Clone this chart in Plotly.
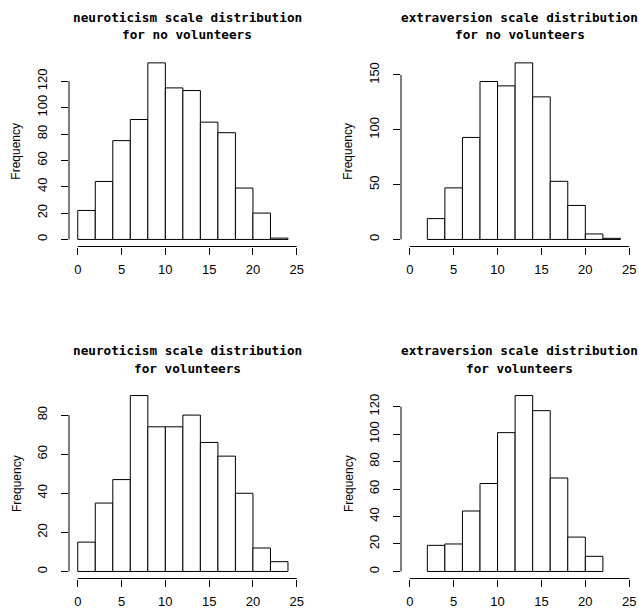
import plotly.graph_objects as go

# ---- data ----
neuro_edges = [0, 2, 4, 6, 8, 10, 12, 14, 16, 18, 20, 22, 24]
extra_edges_no = [2, 4, 6, 8, 10, 12, 14, 16, 18, 20, 22, 24]
extra_edges_yes = [2, 4, 6, 8, 10, 12, 14, 16, 18, 20, 22]

neuro_no = [22, 44, 75, 91, 134, 115, 113, 89, 81, 39, 20, 1]
extra_no = [19, 47, 93, 144, 140, 161, 130, 53, 31, 5, 1]
neuro_yes = [15, 35, 47, 90, 74, 74, 80, 66, 59, 40, 12, 5]
extra_yes = [19, 20, 44, 64, 101, 128, 117, 68, 25, 11]

x_ticks = [0, 5, 10, 15, 20, 25]
y_ticks_neuro_no = [0, 20, 40, 60, 80, 100, 120]
y_ticks_extra_no = [0, 50, 100, 150]
y_ticks_neuro_yes = [0, 20, 40, 60, 80]
y_ticks_extra_yes = [0, 20, 40, 60, 80, 100, 120]

titles = [
    ("neuroticism scale distribution", "for no volunteers"),
    ("extraversion scale distribution", "for no volunteers"),
    ("neuroticism scale distribution", "for volunteers"),
    ("extraversion scale distribution", "for volunteers"),
]

panels = [
    (neuro_edges, neuro_no, y_ticks_neuro_no),
    (extra_edges_no, extra_no, y_ticks_extra_no),
    (neuro_edges, neuro_yes, y_ticks_neuro_yes),
    (extra_edges_yes, extra_yes, y_ticks_extra_yes),
]

W, H = 639, 608
# plot regions in pixels (left, right, top, bottom)
col_px = [(69, 305.5), (401, 638)]
row_px = [(55.8, 246.5), (388.5, 578.5)]
title_px = [(17, 35), (350, 368)]
freq_x_px = [16.5, 348.5]

tick_font = dict(family="Liberation Sans Narrow, Liberation Sans, Arial", size=13, color="black")
title_font = dict(family="DejaVu Sans Mono", size=12.7, color="black")

fig = go.Figure()
layout = dict(
    width=W, height=H,
    margin=dict(l=0, r=0, t=0, b=0, autoexpand=False),
    paper_bgcolor="white", plot_bgcolor="white",
    showlegend=False,
    shapes=[], annotations=[],
)

for i, (edges, counts, yt) in enumerate(panels):
    r, c = divmod(i, 2)
    n = i + 1
    xa = "x" if n == 1 else f"x{n}"
    ya = "y" if n == 1 else f"y{n}"
    centers = [(edges[k] + edges[k + 1]) / 2 for k in range(len(counts))]
    widths = [edges[k + 1] - edges[k] for k in range(len(counts))]
    fig.add_trace(go.Bar(
        x=centers, y=counts, width=widths,
        marker=dict(color="white", line=dict(color="black", width=1)),
        xaxis=xa, yaxis=ya, hoverinfo="x+y",
    ))
    x0, x1 = col_px[c]
    top, bot = row_px[r]
    xmin, xmax = x_ticks[0], x_ticks[-1]
    pad_x = 0.04 * (xmax - xmin)
    ymax = max(counts)
    xkey = "xaxis" if n == 1 else f"xaxis{n}"
    ykey = "yaxis" if n == 1 else f"yaxis{n}"
    layout[xkey] = dict(
        domain=[x0 / W, x1 / W], anchor=ya, automargin=False,
        range=[xmin - pad_x, xmax + pad_x],
        tickvals=x_ticks, ticks="outside", ticklen=7, tickwidth=1, tickcolor="black",
        showgrid=False, zeroline=False, showline=False,
        tickfont=tick_font, ticklabelstandoff=4,
    )
    layout[ykey] = dict(
        domain=[1 - bot / H, 1 - top / H], anchor=xa, automargin=False,
        range=[-0.04 * ymax, 1.04 * ymax],
        tickvals=yt, ticks="outside", ticklen=7, tickwidth=1, tickcolor="black",
        showgrid=False, zeroline=False, showline=False,
        tickfont=tick_font, tickangle=-90, ticklabelstandoff=9,
    )
    # R-style axis lines spanning first to last tick
    layout["shapes"].append(dict(
        type="line", xref=xa, yref=f"{ya} domain",
        x0=x_ticks[0], x1=x_ticks[-1], y0=0, y1=0,
        line=dict(color="black", width=1),
    ))
    layout["shapes"].append(dict(
        type="line", xref=f"{xa} domain", yref=ya,
        x0=0, x1=0, y0=yt[0], y1=yt[-1],
        line=dict(color="black", width=1),
    ))
    # titles (two lines)
    cx = (x0 + x1) / 2 / W
    for line_txt, ypx in zip(titles[i], title_px[r]):
        layout["annotations"].append(dict(
            text=f"<b>{line_txt}</b>", xref="paper", yref="paper",
            x=cx, y=1 - ypx / H, xanchor="center", yanchor="middle",
            showarrow=False, font=title_font,
        ))
    # y axis title
    layout["annotations"].append(dict(
        text="Frequency", xref="paper", yref="paper",
        x=freq_x_px[c] / W, y=1 - (top + bot) / 2 / H,
        xanchor="center", yanchor="middle", textangle=-90,
        showarrow=False,
        font=dict(family="Liberation Sans, Arial", size=12, color="black"),
    ))

fig.update_layout(**layout)
fig.write_html(
    "out.html",
    config={"displayModeBar": False},
    post_script="document.body.style.margin='0';document.body.style.overflow='hidden';",
)
